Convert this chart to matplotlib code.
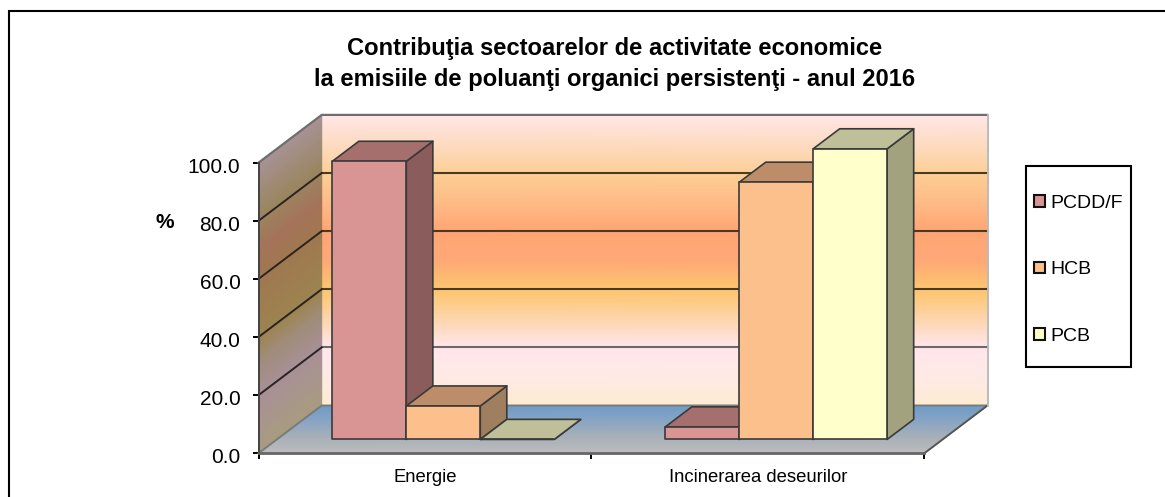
import numpy as np
import matplotlib
matplotlib.use('Agg')
import matplotlib.pyplot as plt
from matplotlib.colors import LinearSegmentedColormap
from matplotlib.lines import Line2D
from matplotlib.patches import Polygon, Patch, Rectangle
from matplotlib.transforms import ScaledTranslation

plt.rcParams['font.family'] = ['Liberation Sans', 'DejaVu Sans']

##values
categories = ['Energie', 'Incinerarea deseurilor']
series_names = ['PCDD/F', 'HCB', 'PCB']
pcdd = [95.7, 4.3]
hcb = [11.5, 88.5]
pcb = [0.0, 100.0]
y_ticks = [0, 20, 40, 60, 80, 100]

##front, top, side colours of each series
bar_colors = [('#D99594', '#A56F6E', '#8A5C5B'),
              ('#FBC08C', '#BC8D68', '#9E7F5F'),
              ('#FFFFCC', '#BFBF99', '#A2A27E')]

##oblique projection, all in data units
DX = 63.2 / (665.8 / 2)
DY = 47.8 / 2.906
D0, D1 = 0.29, 0.71
BAR_W = 1 / 4.5

def proj(x, v, d):
    return (x + d * DX, v + d * DY)

wall_stops = [(0.0, '#FDEBD2'), (0.10, '#FFE9E6'), (0.20, '#FFE6EC'), (0.28, '#FDD8B8'),
              (0.38, '#FEC878'), (0.42, '#FDC070'), (0.50, '#FFA877'), (0.60, '#FFA574'),
              (0.72, '#FEBF8A'), (0.80, '#FDCF95'), (0.88, '#FDD9BA'), (1.0, '#FFE6E6')]
wall_cmap = LinearSegmentedColormap.from_list('wall', wall_stops)
side_stops = [(0.0, '#A89C80'), (0.20, '#A89098'), (0.32, '#A08C78'), (0.40, '#9C8450'),
              (0.60, '#A07850'), (0.70, '#A5735A'), (0.82, '#9A8660'), (1.0, '#A89296')]
side_cmap = LinearSegmentedColormap.from_list('side', side_stops)
floor_cmap = LinearSegmentedColormap.from_list('floor', ['#BDBDBD', '#A8B0B8', '#8AA6C4', '#6F9BC6'])

fig = plt.figure(figsize=(11.65, 4.97), dpi=100)
ax = fig.add_axes([258.5 / 1165, 1 - 453.3 / 497, 665.8 / 1165, 290.6 / 497])
ax.patch.set_visible(False)

##only the top and left edges of the outer frame are in the picture
fig.add_artist(Line2D([8.5 / 1165, 8.5 / 1165, 1], [0, 1 - 10.5 / 497, 1 - 10.5 / 497],
                      color='black', lw=1.5, solid_joinstyle='miter'))

##back wall
vv = np.linspace(0, 100, 101)
xx = np.array([0, 2])
X, Y = np.meshgrid(xx, vv)
PX, PY = proj(X, Y, 1)
m = ax.pcolormesh(PX, PY, Y, cmap=wall_cmap, shading='gouraud', vmin=0, vmax=100, zorder=1)
m.set_clip_on(False)

##side wall
dd = np.array([0, 1])
D, V = np.meshgrid(dd, vv)
PX, PY = proj(0 * D, V, D)
m = ax.pcolormesh(PX, PY, V, cmap=side_cmap, shading='gouraud', vmin=0, vmax=100, zorder=1)
m.set_clip_on(False)

##floor
dd = np.linspace(0, 1, 30)
D, XF = np.meshgrid(dd, xx)
PX, PY = proj(XF, 0 * D, D)
m = ax.pcolormesh(PX, PY, D, cmap=floor_cmap, shading='gouraud', vmin=0, vmax=1, zorder=1)
m.set_clip_on(False)

##gridlines, back wall and side wall
for v in y_ticks[1:]:
    a = proj(0, v, 0)
    b = proj(0, v, 1)
    c = proj(2, v, 1)
    if v == 100:
        ax.plot([a[0], b[0], c[0]], [a[1], b[1], c[1]], color='#6E6E6E', lw=1.6, zorder=2, clip_on=False)
    else:
        back_col = '#6E6868' if v == 20 else '#4A3A22'
        ax.plot([b[0], c[0]], [b[1], c[1]], color=back_col, lw=1.5, zorder=2, clip_on=False)
        ax.plot([a[0], b[0]], [a[1], b[1]], color='#2A2420', lw=1.4, zorder=2, clip_on=False)

##wall and floor edges
edge = dict(color='#7A7A7A', lw=1.4, zorder=2, clip_on=False)
a, b, c = proj(0, 0, 0), proj(0, 0, 1), proj(2, 0, 1)
ax.plot([a[0], b[0], c[0]], [a[1], b[1], c[1]], **edge)
a, b = proj(2, 0, 0), proj(2, 0, 1)
ax.plot([a[0], b[0]], [a[1], b[1]], color='#555555', lw=1.4, zorder=2, clip_on=False)
a, b = proj(2, 0, 1), proj(2, 100, 1)
ax.plot([a[0], b[0]], [a[1], b[1]], color='#BBBBBB', lw=1.4, zorder=2, clip_on=False)

##bars, left to right so each one covers the side of the previous one
def draw_bar(x, v, cols, z):
    x2 = x + BAR_W
    front = [proj(x, 0, D0), proj(x2, 0, D0), proj(x2, v, D0), proj(x, v, D0)]
    top = [proj(x, v, D0), proj(x2, v, D0), proj(x2, v, D1), proj(x, v, D1)]
    side = [proj(x2, 0, D0), proj(x2, 0, D1), proj(x2, v, D1), proj(x2, v, D0)]
    for pts, col in ((side, cols[2]), (top, cols[1]), (front, cols[0])):
        ax.add_patch(Polygon(pts, closed=True, facecolor=col, edgecolor='#3A3A3A', lw=1.2,
                             joinstyle='round', zorder=z, clip_on=False))

z = 3
for i in range(len(categories)):
    for j, vals in enumerate([pcdd, hcb, pcb]):
        draw_bar(i + 0.75 * BAR_W + j * BAR_W, vals[i], bar_colors[j], z)
        z += 1

ax.set_xlim(0, 2)
ax.set_ylim(0, 100)
ax.set_xticks([0, 1, 2])
ax.set_xticklabels([])
ax.set_xticks([0.5, 1.5], minor=True)
ax.set_xticklabels(categories, minor=True, fontsize=13.3)
ax.set_yticks(y_ticks)
ax.set_yticklabels(['%.1f' % v for v in y_ticks], fontsize=15)
ax.tick_params(axis='y', length=4.5, width=1.4, pad=8.5, color='black')
ax.tick_params(axis='x', which='major', length=4, width=1.4, color='black')
ax.tick_params(axis='x', which='minor', length=0, pad=11)
##value labels sit a little under their ticks in the picture
for lab in ax.get_yticklabels():
    lab.set_transform(lab.get_transform() + ScaledTranslation(0, -2.5 / 100, fig.dpi_scale_trans))
for s in ['top', 'right']:
    ax.spines[s].set_visible(False)
ax.spines['left'].set_linewidth(1.4)
ax.spines['left'].set_color('#444444')
ax.spines['bottom'].set_linewidth(2)
ax.spines['bottom'].set_color('#666666')
for s in ax.spines.values():
    s.set_zorder(2.5)

fig.text(165 / 1165, 1 - 222 / 497, '%', fontsize=15, fontweight='bold', ha='center', va='center')
fig.text(615 / 1165, 1 - 64 / 497,
         'Contribuţia sectoarelor de activitate economice\nla emisiile de poluanţi organici persistenţi - anul 2016',
         fontsize=17.1, fontweight='bold', ha='center', va='center', linespacing=1.43)

##legend
fig.add_artist(Rectangle((1025.5 / 1165, 1 - 367 / 497), 105 / 1165, 201 / 497, transform=fig.transFigure,
                         facecolor='white', edgecolor='black', lw=1.5))
handles = [Patch(facecolor=c[0], edgecolor='#111111', lw=1.5) for c in bar_colors]
leg = fig.legend(handles, series_names, loc='center left', bbox_to_anchor=(1034 / 1165, 1 - 270 / 497),
                 frameon=False, fontsize=14, labelspacing=2.55, handlelength=0.55, handleheight=0.55,
                 handletextpad=0.28, borderpad=0, borderaxespad=0)

fig.savefig('out.png', dpi=100)
